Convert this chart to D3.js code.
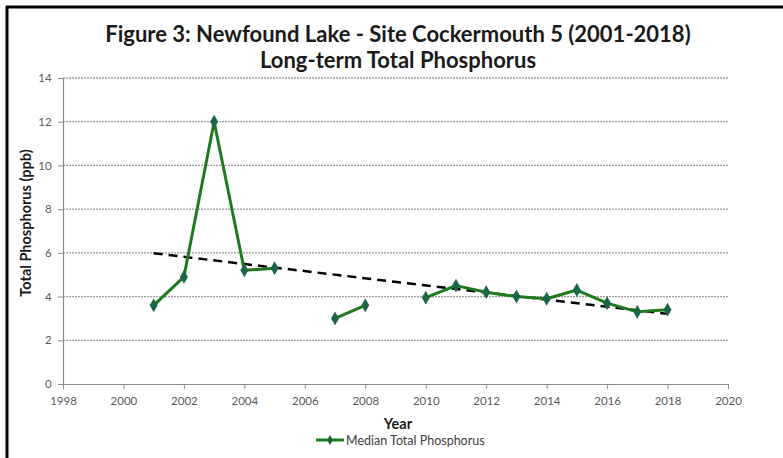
<!DOCTYPE html>
<html>
<head>
<meta charset="utf-8">
<script src="https://cdn.jsdelivr.net/npm/d3@7"></script>
<style>
  body { margin: 0; background: #fff; }
  svg { display: block; font-family: Lato, "Open Sans", sans-serif; }
</style>
</head>
<body>
<svg id="chart" width="783" height="458"></svg>
<script>
// median TP by year, null = no sample that year
const years = [2001, 2002, 2003, 2004, 2005, 2006, 2007, 2008, 2009, 2010, 2011, 2012, 2013, 2014, 2015, 2016, 2017, 2018];
const medianTP = [3.6, 4.9, 12.0, 5.2, 5.3, null, 3.0, 3.6, null, 3.95, 4.5, 4.2, 4.0, 3.9, 4.3, 3.7, 3.3, 3.4];
const xTicks = [1998, 2000, 2002, 2004, 2006, 2008, 2010, 2012, 2014, 2016, 2018, 2020];
const yTicks = [0, 2, 4, 6, 8, 10, 12, 14];
const titleLines = ["Figure 3: Newfound Lake - Site Cockermouth 5 (2001-2018)", "Long-term Total Phosphorus"];

const svg = d3.select("#chart");
const plotLeft = 63, plotRight = 728, plotTop = 78, plotBottom = 384;

const x = d3.scaleLinear().domain([1998, 2020]).range([plotLeft, plotRight]);
const y = d3.scaleLinear().domain([0, 14]).range([plotBottom, plotTop]);

// frame
svg.append("line").attr("x1", 6).attr("x2", 783).attr("y1", 7).attr("y2", 7)
    .attr("stroke", "#000").attr("stroke-width", 3);
svg.append("line").attr("x1", 7).attr("x2", 7).attr("y1", 6).attr("y2", 458)
    .attr("stroke", "#000").attr("stroke-width", 3);

// title
svg.selectAll(".title").data(titleLines).enter().append("text")
    .attr("class", "title")
    .attr("x", 398).attr("y", (d, i) => 42 + i * 26)
    .attr("text-anchor", "middle")
    .attr("font-size", 22).attr("font-weight", "bold").attr("fill", "#1a1a1a")
    .text(d => d);

// gridlines
svg.append("g").selectAll("line").data(yTicks.filter(d => d > 0)).enter().append("line")
    .attr("x1", plotLeft).attr("x2", plotRight)
    .attr("y1", d => y(d)).attr("y2", d => y(d))
    .attr("stroke", "#9a9a9a").attr("stroke-width", 1.3).attr("stroke-dasharray", "2,1");

// axes
const xAxis = svg.append("g").attr("transform", `translate(0,${plotBottom})`)
    .call(d3.axisBottom(x).tickValues(xTicks).tickFormat(d3.format("d")).tickSize(5).tickSizeOuter(0));
const yAxis = svg.append("g").attr("transform", `translate(${plotLeft},0)`)
    .call(d3.axisLeft(y).tickValues(yTicks).tickSize(5).tickSizeOuter(0));
[xAxis, yAxis].forEach(a => {
    a.select(".domain").attr("stroke", "#8c8c8c").attr("stroke-width", 1.2);
    a.selectAll(".tick line").attr("stroke", "#8c8c8c");
    a.selectAll("text").attr("fill", "#595959").attr("font-size", 11.5)
        .attr("font-family", "Lato, 'Open Sans', sans-serif");
});
xAxis.selectAll("text").attr("dy", "1.1em");
yAxis.selectAll("text").attr("dx", "-0.3em");

// axis titles
svg.append("text").attr("x", 398).attr("y", 429).attr("text-anchor", "middle")
    .attr("font-size", 14.5).attr("font-weight", "bold").attr("fill", "#1a1a1a").text("Year");
svg.append("text").attr("transform", `translate(31,${(plotTop + plotBottom) / 2 - 8}) rotate(-90)`)
    .attr("text-anchor", "middle").attr("font-size", 14.5).attr("font-weight", "bold")
    .attr("fill", "#1a1a1a").text("Total Phosphorus (ppb)");

// trend line (least squares on sampled years)
const pts = years.map((yr, i) => ({ yr, v: medianTP[i] })).filter(d => d.v != null);
const mx = d3.mean(pts, d => d.yr), my = d3.mean(pts, d => d.v);
const slope = d3.sum(pts, d => (d.yr - mx) * (d.v - my)) / d3.sum(pts, d => (d.yr - mx) ** 2);
const ends = [pts[0].yr, pts[pts.length - 1].yr];
svg.append("line")
    .attr("x1", x(ends[0])).attr("y1", y(my + slope * (ends[0] - mx)))
    .attr("x2", x(ends[1])).attr("y2", y(my + slope * (ends[1] - mx)))
    .attr("stroke", "#000").attr("stroke-width", 2.5).attr("stroke-dasharray", "9,6");

// data line with gaps
const line = d3.line().defined(d => d.v != null).x(d => x(d.yr)).y(d => y(d.v));
svg.append("path").datum(years.map((yr, i) => ({ yr, v: medianTP[i] })))
    .attr("d", line).attr("fill", "none").attr("stroke", "#1f7a1f").attr("stroke-width", 3)
    .attr("stroke-linejoin", "round");

const diamond = d3.symbol().type(d3.symbolDiamond).size(55);
svg.append("g").selectAll("path").data(pts).enter().append("path")
    .attr("transform", d => `translate(${x(d.yr)},${y(d.v)})`)
    .attr("d", diamond).attr("fill", "#1a6646");

// legend
const lg = svg.append("g").attr("transform", "translate(316,440)");
lg.append("line").attr("x1", 0).attr("x2", 28).attr("stroke", "#1f7a1f").attr("stroke-width", 3);
lg.append("path").attr("transform", "translate(14,0)").attr("d", d3.symbol().type(d3.symbolDiamond).size(30)).attr("fill", "#1a6646");
lg.append("text").attr("x", 30).attr("y", 4.5).attr("font-size", 12.5).attr("fill", "#404040")
    .text("Median Total Phosphorus");
</script>
</body>
</html>
